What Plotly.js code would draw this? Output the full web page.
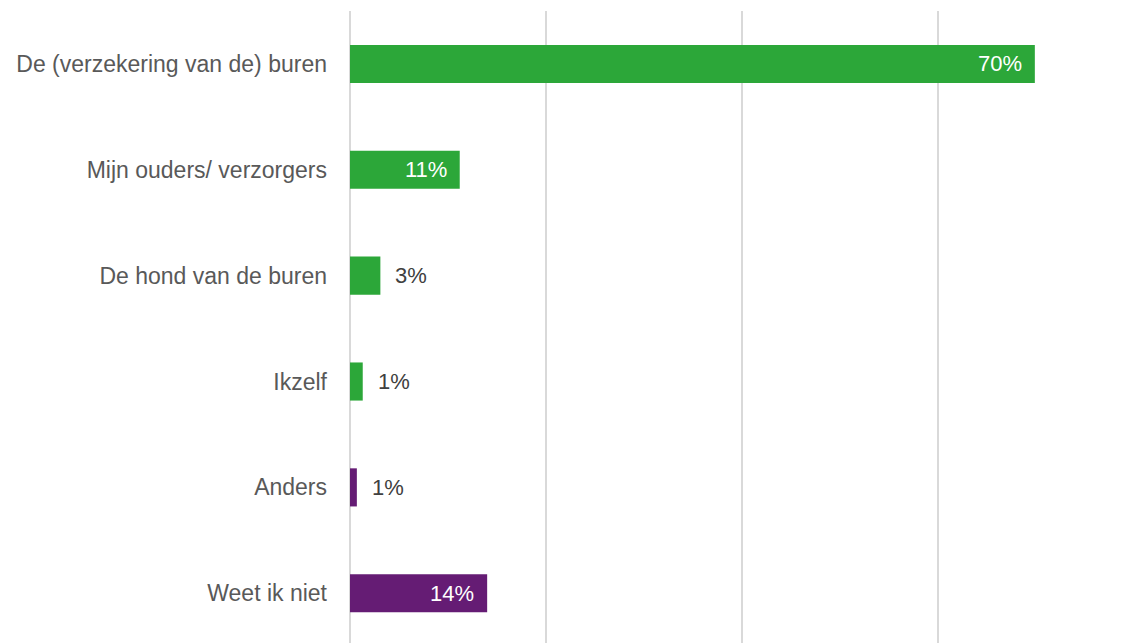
<!DOCTYPE html>
<html>
<head>
<meta charset="utf-8">
<script src="https://cdn.plot.ly/plotly-3.0.1.min.js"></script>
<style>html,body{margin:0;padding:0;background:#fff;}#chart{width:1125px;height:643px;}</style>
</head>
<body>
<div id="chart"></div>
<script>
const categories = ["De (verzekering van de) buren", "Mijn ouders/ verzorgers", "De hond van de buren", "Ikzelf", "Anders", "Weet ik niet"];
const values = [69.9, 11.2, 3.1, 1.3, 0.7, 14.0];
const valueLabels = ["70%", "11%", "3%", "1%", "1%", "14%"];
const barColors = ["#2CA739", "#2CA739", "#2CA739", "#2CA739", "#651C74", "#651C74"];
const insideLabel = [true, true, false, false, false, true];

const trace = {
  type: "bar",
  orientation: "h",
  y: categories,
  x: values,
  marker: { color: barColors },
  width: 0.36,
  hoverinfo: "none"
};

const annotations = categories.map((c, i) => ({
  x: values[i],
  y: c,
  xref: "x",
  yref: "y",
  text: valueLabels[i],
  showarrow: false,
  xanchor: insideLabel[i] ? "right" : "left",
  xshift: insideLabel[i] ? -11 : 13,
  font: { family: "Liberation Sans, Arial, sans-serif", size: 22, color: insideLabel[i] ? "#ffffff" : "#404040" }
}));

const layout = {
  width: 1125,
  height: 643,
  margin: { l: 350, r: 1, t: 11, b: 0 },
  paper_bgcolor: "#ffffff",
  plot_bgcolor: "#ffffff",
  showlegend: false,
  xaxis: {
    range: [0, 79],
    dtick: 20,
    showticklabels: false,
    showgrid: true,
    gridcolor: "#d9d9d9",
    gridwidth: 2,
    zeroline: true,
    zerolinecolor: "#d9d9d9",
    zerolinewidth: 2,
    showline: false,
    fixedrange: true
  },
  yaxis: {
    range: [5.47, -0.5],
    showgrid: false,
    zeroline: false,
    showline: false,
    ticks: "",
    ticklabelstandoff: 22,
    tickfont: { family: "Liberation Sans, Arial, sans-serif", size: 23, color: "#595959" },
    fixedrange: true
  },
  annotations: annotations
};

Plotly.newPlot("chart", [trace], layout, { displayModeBar: false, staticPlot: true });
</script>
</body>
</html>
